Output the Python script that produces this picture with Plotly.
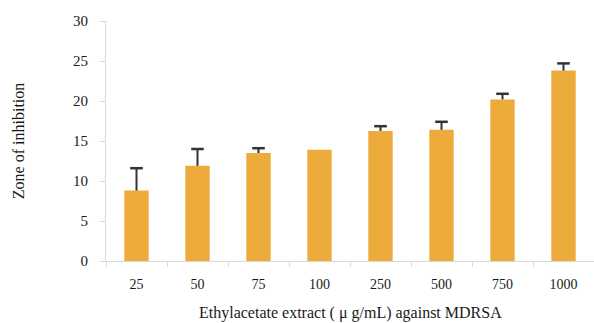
import plotly.graph_objects as go

categories = ["25", "50", "75", "100", "250", "500", "750", "1000"]
values = [8.8, 11.9, 13.5, 13.9, 16.25, 16.4, 20.2, 23.8]
errors = [2.8, 2.1, 0.6, 0.0, 0.6, 1.0, 0.7, 0.9]
yticks = [0, 5, 10, 15, 20, 25, 30]

fig = go.Figure()
fig.add_trace(go.Bar(
    x=categories, y=values,
    marker=dict(color="#EDAB3B", line=dict(width=0)),
    width=0.4,
    error_y=dict(type="data", symmetric=False, array=errors,
                 arrayminus=[0]*len(errors), color="#333333",
                 thickness=2, width=0),
))
cap_x = [c for c, e in zip(categories, errors) if e > 0]
cap_y = [v + e for v, e in zip(values, errors) if e > 0]
fig.add_trace(go.Scatter(
    x=cap_x, y=cap_y, mode="markers",
    marker=dict(symbol="line-ew", size=9, line=dict(color="#333333", width=2.5)),
    hoverinfo="skip",
))

font = dict(family="Liberation Serif, Times New Roman, serif", size=14, color="#1a1a1a")
fig.update_layout(
    width=594, height=323,
    margin=dict(l=106, r=0, t=21, b=62, autoexpand=False),
    paper_bgcolor="white", plot_bgcolor="white",
    showlegend=False, font=font,
    bargap=0.6,
    annotations=[
        dict(text="Zone of inhibition", xref="paper", yref="paper", x=-0.18, y=0.5,
             xanchor="center", yanchor="middle", textangle=-90, showarrow=False,
             font=dict(size=16)),
        dict(text="Ethylacetate extract ( μ g/mL) against MDRSA", xref="paper", yref="paper",
             x=0.5, y=-0.217, xanchor="center", yanchor="middle", showarrow=False,
             font=dict(size=16)),
    ],
)
fig.update_xaxes(
    type="category", showline=True, linecolor="#d9d9d9", linewidth=1, automargin=False,
    ticks="outside", tickson="boundaries", ticklen=5, tickcolor="#d9d9d9",
    showgrid=False, tickfont=dict(size=14), ticklabelstandoff=10,
)
fig.update_yaxes(
    range=[0, 30], tickvals=yticks, showline=True, linecolor="#d9d9d9", linewidth=1,
    automargin=False,
    ticks="outside", ticklen=5, tickcolor="#d9d9d9", showgrid=False, zeroline=False,
    tickfont=dict(size=15), ticklabelstandoff=9,
)
fig.write_html("out.html", config={"displayModeBar": False},
               post_script="document.body.style.margin='0';document.body.style.overflow='hidden';")
